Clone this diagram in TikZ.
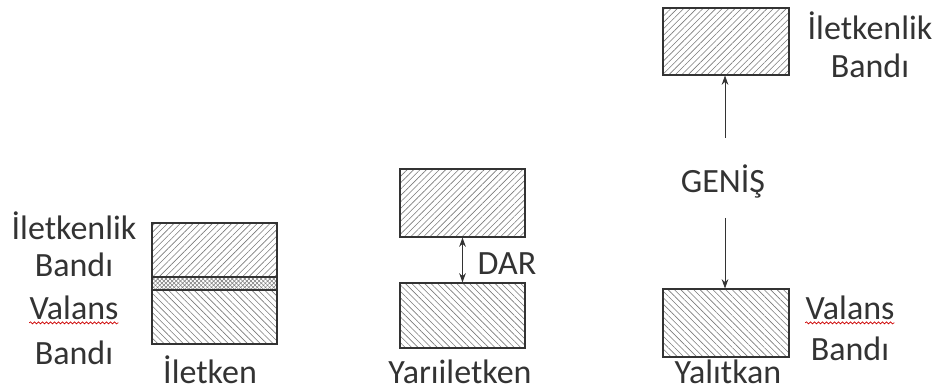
\documentclass[tikz,border=0pt]{standalone}
\usepackage{fontspec}
\setmainfont{Carlito}
\usetikzlibrary{patterns.meta,arrows.meta,decorations.pathmorphing}
\definecolor{ink}{HTML}{333333}
\definecolor{hatch}{HTML}{7A7A7A}
\tikzset{
  band/.style={draw=ink, line width=0.8pt, inner sep=0pt, minimum width=93.75pt},
  ne/.style={band, pattern={Lines[angle=45,distance=3.4pt,line width=0.45pt]}, pattern color=hatch},
  nw/.style={band, pattern={Lines[angle=-45,distance=3.4pt,line width=0.45pt]}, pattern color=hatch},
  lbl/.style={text=ink, font=\fontsize{25.5}{30}\selectfont, inner sep=0pt},
  arr/.style={draw=ink, line width=0.6pt, -{Stealth[length=7pt,width=5pt]}},
  darr/.style={draw=ink, line width=0.6pt, {Stealth[length=7pt,width=5pt]}-{Stealth[length=7pt,width=5pt]}},
  squig/.style={draw=red!80!black, line width=0.5pt, decorate, decoration={snake, amplitude=0.8pt, segment length=3pt}}
}
\begin{document}
\begin{tikzpicture}[x=0.75pt,y=-0.75pt]
\useasboundingbox (0,0) rectangle (942,391);
% Iletken
\node[ne, minimum height=40.5pt] (it) at (214.5,250) {};
\node[band, minimum height=9.75pt, pattern={Lines[angle=45,distance=2.2pt,line width=0.4pt]}, pattern color=hatch] (im) at (214.5,283.5) {};
\node[band, minimum height=9.75pt, pattern={Lines[angle=-45,distance=2.2pt,line width=0.4pt]}, pattern color=hatch] (im2) at (214.5,283.5) {};
\node[nw, minimum height=40.5pt] (ib) at (214.5,317) {};
\node[lbl] (l1) at (74,226) {İletkenlik};
\node[lbl] (l2) at (74,265) {Bandı};
\node[lbl] (l3) at (74,308) {Valans};
\node[lbl] (l4) at (74,353) {Bandı};
\draw[squig] ([yshift=-2pt]l3.south west) -- ([yshift=-2pt]l3.south east);
\node[lbl] (iname) at (210,370) {İletken};
% Yariiletken
\node[ne, minimum height=51pt] (yt) at (462.5,203) {};
\node[nw, minimum height=48.75pt] (yb) at (462.5,315.5) {};
\draw[darr] (yt.south) -- (yb.north);
\node[lbl] (dar) at (507,264) {DAR};
\node[lbl] (yname) at (460,372) {Yarıiletken};
% Yalitkan
\node[ne, minimum height=50.25pt, minimum width=94.5pt] (kt) at (726,41.5) {};
\node[nw, minimum height=51pt, minimum width=94.5pt] (kb) at (726,323) {};
\node[lbl] (genis) at (723,181) {GENİŞ};
\coordinate (g1) at (725,138);
\coordinate (g2) at (725,218);
\draw[arr] (g1) -- (g1 |- kt.south);
\draw[arr] (g2) -- (g2 |- kb.north);
\node[lbl] (r1) at (870,26) {İletkenlik};
\node[lbl] (r2) at (870,66) {Bandı};
\node[lbl] (r3) at (850,308) {Valans};
\node[lbl] (r4) at (850,349) {Bandı};
\draw[squig] ([yshift=-2pt]r3.south west) -- ([yshift=-2pt]r3.south east);
\node[lbl] (kname) at (728,372) {Yalıtkan};
\end{tikzpicture}
\end{document}
